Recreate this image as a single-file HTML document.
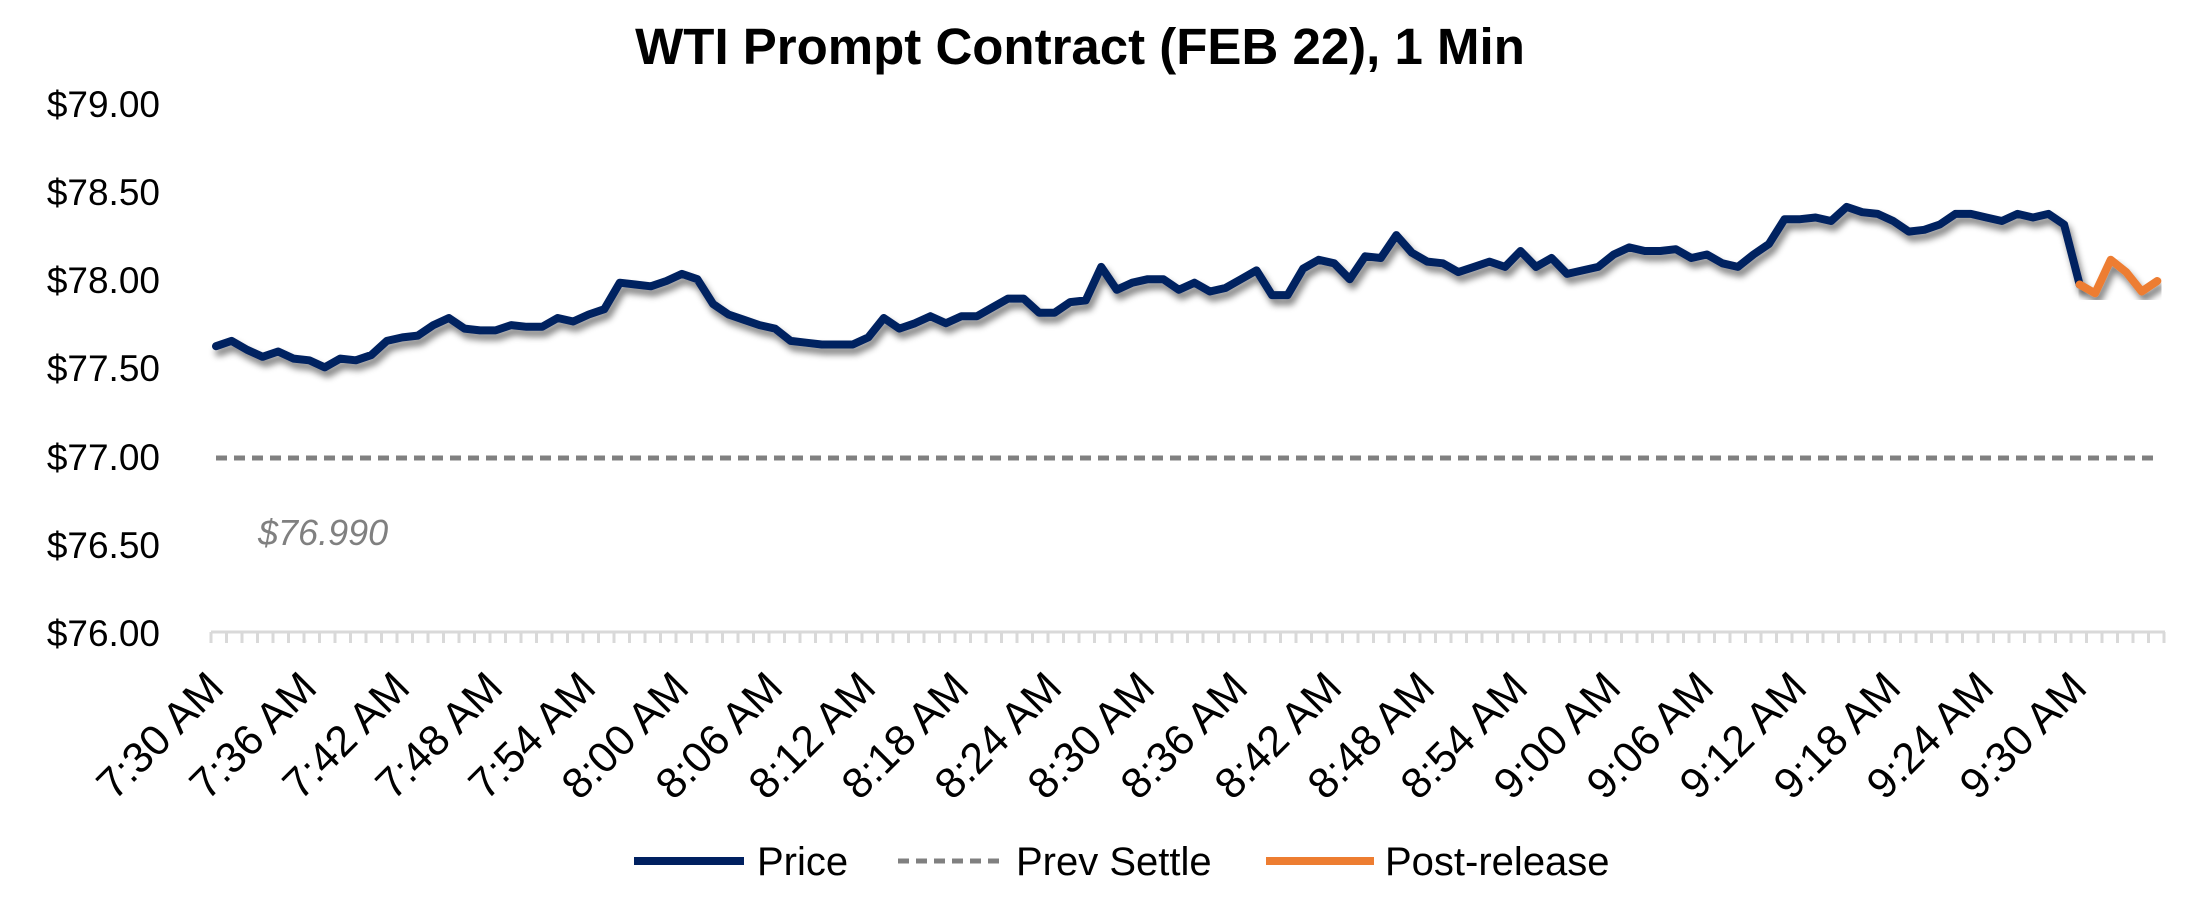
<!DOCTYPE html>
<html><head><meta charset="utf-8"><style>
html,body{margin:0;padding:0;background:#fff;}
svg{display:block;font-family:"Liberation Sans",sans-serif;}
</style></head><body>
<svg width="2196" height="900" viewBox="0 0 2196 900" xmlns="http://www.w3.org/2000/svg">
<defs>
<filter id="sh" x="-5%" y="-20%" width="110%" height="140%">
<feGaussianBlur in="SourceAlpha" stdDeviation="3.5"/>
<feOffset dx="3" dy="6" result="b"/>
<feComponentTransfer><feFuncA type="linear" slope="0.5"/></feComponentTransfer>
<feMerge><feMergeNode/><feMergeNode in="SourceGraphic"/></feMerge>
</filter>
</defs>
<text x="1080" y="64" text-anchor="middle" font-size="51" font-weight="bold" fill="#000">WTI Prompt Contract (FEB 22), 1 Min</text>
<g font-size="37" text-anchor="end" fill="#000">
<text x="160" y="117">$79.00</text>
<text x="160" y="205">$78.50</text>
<text x="160" y="293">$78.00</text>
<text x="160" y="381">$77.50</text>
<text x="160" y="470">$77.00</text>
<text x="160" y="558">$76.50</text>
<text x="160" y="646">$76.00</text>
</g>
<line x1="211" y1="632" x2="2165" y2="632" stroke="#d9d9d9" stroke-width="3"/>
<g id="ticks" stroke="#d9d9d9" stroke-width="3"></g>
<line x1="216" y1="458" x2="2160" y2="458" stroke="#808080" stroke-width="5" stroke-dasharray="11,7"/>
<text x="258" y="545" font-size="36" font-style="italic" fill="#808080">$76.990</text>
<polyline id="blue" fill="none" stroke="#002060" stroke-width="8" stroke-linejoin="round" stroke-linecap="round" filter="url(#sh)"/>
<polyline id="orange" fill="none" stroke="#ED7D31" stroke-width="8" stroke-linejoin="round" stroke-linecap="round" filter="url(#sh)"/>
<g font-size="43" text-anchor="end" fill="#000">
<text transform="translate(226,690) rotate(-45)">7:30 AM</text>
<text transform="translate(319,690) rotate(-45)">7:36 AM</text>
<text transform="translate(412,690) rotate(-45)">7:42 AM</text>
<text transform="translate(505,690) rotate(-45)">7:48 AM</text>
<text transform="translate(598,690) rotate(-45)">7:54 AM</text>
<text transform="translate(691,690) rotate(-45)">8:00 AM</text>
<text transform="translate(785,690) rotate(-45)">8:06 AM</text>
<text transform="translate(878,690) rotate(-45)">8:12 AM</text>
<text transform="translate(971,690) rotate(-45)">8:18 AM</text>
<text transform="translate(1064,690) rotate(-45)">8:24 AM</text>
<text transform="translate(1157,690) rotate(-45)">8:30 AM</text>
<text transform="translate(1250,690) rotate(-45)">8:36 AM</text>
<text transform="translate(1344,690) rotate(-45)">8:42 AM</text>
<text transform="translate(1437,690) rotate(-45)">8:48 AM</text>
<text transform="translate(1530,690) rotate(-45)">8:54 AM</text>
<text transform="translate(1623,690) rotate(-45)">9:00 AM</text>
<text transform="translate(1716,690) rotate(-45)">9:06 AM</text>
<text transform="translate(1809,690) rotate(-45)">9:12 AM</text>
<text transform="translate(1903,690) rotate(-45)">9:18 AM</text>
<text transform="translate(1996,690) rotate(-45)">9:24 AM</text>
<text transform="translate(2089,690) rotate(-45)">9:30 AM</text>
</g>
<g font-size="40" fill="#000">
<line x1="634" y1="861" x2="744" y2="861" stroke="#002060" stroke-width="8"/>
<text x="757" y="875">Price</text>
<line x1="898" y1="861" x2="1006" y2="861" stroke="#808080" stroke-width="5" stroke-dasharray="11,7"/>
<text x="1016" y="875">Prev Settle</text>
<line x1="1266" y1="861" x2="1374" y2="861" stroke="#ED7D31" stroke-width="8"/>
<text x="1385" y="875">Post-release</text>
</g>
</svg>
<script>
var v=[77.62,77.65,77.60,77.56,77.59,77.55,77.54,77.50,77.55,77.54,77.57,77.65,77.67,77.68,77.74,77.78,77.72,77.71,77.71,77.74,77.73,77.73,77.78,77.76,77.80,77.83,77.98,77.97,77.96,77.99,78.03,78.00,77.86,77.80,77.77,77.74,77.72,77.65,77.64,77.63,77.63,77.63,77.67,77.78,77.72,77.75,77.79,77.75,77.79,77.79,77.84,77.89,77.89,77.81,77.81,77.87,77.88,78.07,77.94,77.98,78.00,78.00,77.94,77.98,77.93,77.95,78.00,78.05,77.91,77.91,78.06,78.11,78.09,78.00,78.13,78.12,78.25,78.15,78.10,78.09,78.04,78.07,78.10,78.07,78.16,78.07,78.12,78.03,78.05,78.07,78.14,78.18,78.16,78.16,78.17,78.12,78.14,78.09,78.07,78.14,78.20,78.34,78.34,78.35,78.33,78.41,78.38,78.37,78.33,78.27,78.28,78.31,78.37,78.37,78.35,78.33,78.37,78.35,78.37,78.31,77.97,77.92,78.11,78.04,77.93,77.99];
function X(i){return 216+i*15.53;}
function Y(p){return 632-(p-76)*176.4;}
var b=[],o=[];
for(var i=0;i<v.length;i++){var s=X(i).toFixed(1)+","+Y(v[i]).toFixed(1);if(i<=120)b.push(s);if(i>=120)o.push(s);}
document.getElementById("blue").setAttribute("points",b.join(" "));
document.getElementById("orange").setAttribute("points",o.join(" "));
var g=document.getElementById("ticks"),h="";
for(var i=0;i<=126;i++){var x=(211+i*15.5).toFixed(1);h+='<line x1="'+x+'" y1="632" x2="'+x+'" y2="643"/>';}
g.innerHTML=h;
</script>
</body></html>
